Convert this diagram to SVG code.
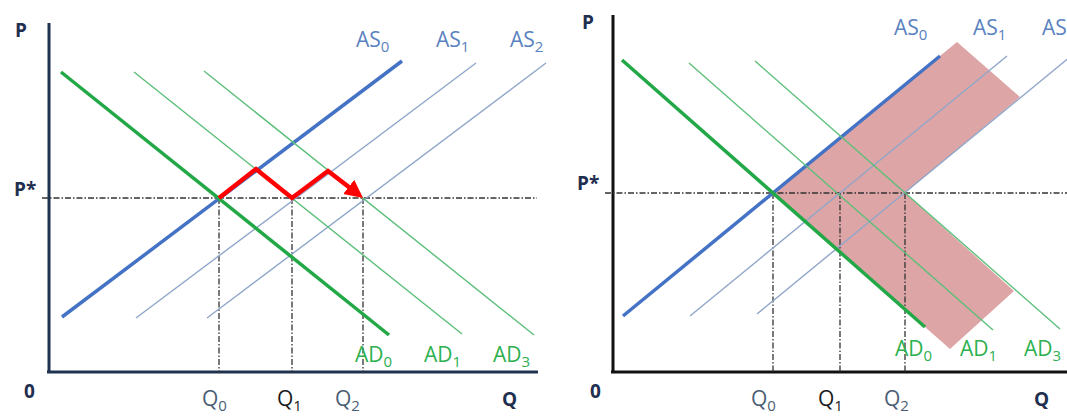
<svg xmlns="http://www.w3.org/2000/svg" width="1067" height="417" viewBox="0 0 1067 417">
<style>
text{font-family:"Open Sans","Noto Sans",sans-serif}
.ax{font-weight:bold;font-size:19px;fill:#1f2f4f}
.asl{font-size:21px;fill:#5a82c0}
.adl{font-size:21px;fill:#2db04f}
.ql{font-size:21px;fill:#4a5d73}
.q1{font-size:21px;fill:#1a1a1a}
.sub{font-size:15px}
.as0{stroke:#4472c4;stroke-width:3.5;fill:none}
.asn{stroke:#8fa6c9;stroke-width:1.4;fill:none}
.ad0{stroke:#22a846;stroke-width:3.5;fill:none}
.adn{stroke:#5cbf7a;stroke-width:1.4;fill:none}
.dash{stroke:#333;stroke-width:1.3;stroke-dasharray:6 2 1.5 2;fill:none}
</style>
<defs>
<marker id="ah" markerWidth="20" markerHeight="20" refX="5" refY="10" orient="auto" markerUnits="userSpaceOnUse">
<path d="M0,1 L18,10 L0,19 Z" fill="#ff0000"/>
</marker>
</defs>

<g id="left-panel">
<g id="left-axes">
<line x1="49" y1="23" x2="49" y2="373" stroke="#1f3350" stroke-width="3"/>
<line x1="47" y1="372" x2="538" y2="372" stroke="#1f3350" stroke-width="3"/>
<text class="ax" x="15" y="37">P</text>
<text class="ax" x="14" y="196">P*</text>
<text class="ax" x="24" y="398">0</text>
<text class="ax" x="502" y="406">Q</text>
</g>
<g id="left-guides">
<line class="dash" x1="42" y1="198" x2="537" y2="198"/>
<line class="dash" x1="219" y1="198" x2="219" y2="372"/>
<line class="dash" x1="292" y1="198" x2="292" y2="372"/>
<line class="dash" x1="363" y1="198" x2="363" y2="372"/>
</g>
<g id="left-curves">
<line class="asn" x1="136" y1="318" x2="476" y2="63"/>
<line class="asn" x1="207" y1="318" x2="546" y2="63"/>
<line class="as0" x1="62" y1="317" x2="402" y2="61"/>
<line class="adn" x1="134" y1="72" x2="462" y2="334"/>
<line class="adn" x1="204" y1="71" x2="534" y2="335"/>
<line class="ad0" x1="61" y1="72" x2="389" y2="335"/>
</g>
<g id="left-path">
<polyline points="219,198 256,169 292,198 328,171 352.7,190" fill="none" stroke="#ff0000" stroke-width="4.5" stroke-linejoin="miter" marker-end="url(#ah)"/>
</g>
<g id="left-labels">
<text class="asl" x="356" y="47">AS<tspan class="sub" dy="5">0</tspan></text>
<text class="asl" x="436" y="47">AS<tspan class="sub" dy="5">1</tspan></text>
<text class="asl" x="510" y="47">AS<tspan class="sub" dy="5">2</tspan></text>
<text class="adl" x="355" y="362">AD<tspan class="sub" dy="5">0</tspan></text>
<text class="adl" x="424" y="362">AD<tspan class="sub" dy="5">1</tspan></text>
<text class="adl" x="493" y="362">AD<tspan class="sub" dy="5">3</tspan></text>
<text class="ql" x="202" y="406">Q<tspan class="sub" dy="5">0</tspan></text>
<text class="q1" x="277" y="406">Q<tspan class="sub" dy="5">1</tspan></text>
<text class="ql" x="335" y="406">Q<tspan class="sub" dy="5">2</tspan></text>
</g>
</g>

<g id="right-panel">
<g id="band">
<polygon points="773,193 957,42 1020,97 905,193 1014,291 950,349" fill="#dda5a5"/>
</g>
<g id="right-axes">
<line x1="613" y1="15" x2="613" y2="373" stroke="#111" stroke-width="3"/>
<line x1="611" y1="372" x2="1067" y2="372" stroke="#111" stroke-width="3"/>
<text class="ax" x="582" y="29">P</text>
<text class="ax" x="577" y="190">P*</text>
<text class="ax" x="590" y="398">0</text>
<text class="ax" x="1034" y="406">Q</text>
</g>
<g id="right-guides">
<line class="dash" x1="605" y1="193" x2="1067" y2="193"/>
<line class="dash" x1="773" y1="193" x2="773" y2="372"/>
<line class="dash" x1="840" y1="193" x2="840" y2="372"/>
<line class="dash" x1="905" y1="193" x2="905" y2="372"/>
</g>
<g id="right-curves">
<line class="asn" x1="690" y1="316" x2="1007" y2="56"/>
<line class="asn" x1="757" y1="314" x2="1070" y2="57"/>
<line class="as0" x1="623" y1="316" x2="940" y2="56"/>
<line class="adn" x1="689" y1="63" x2="993" y2="330"/>
<line class="adn" x1="755" y1="61" x2="1060" y2="329"/>
<line class="ad0" x1="622" y1="60" x2="925" y2="327"/>
</g>
<g id="right-labels">
<text class="asl" x="894" y="35">AS<tspan class="sub" dy="5">0</tspan></text>
<text class="asl" x="973" y="35">AS<tspan class="sub" dy="5">1</tspan></text>
<text class="asl" x="1042" y="35">AS</text>
<text class="adl" x="895" y="356">AD<tspan class="sub" dy="5">0</tspan></text>
<text class="adl" x="960" y="356">AD<tspan class="sub" dy="5">1</tspan></text>
<text class="adl" x="1024" y="356">AD<tspan class="sub" dy="5">3</tspan></text>
<text class="ql" x="751" y="406">Q<tspan class="sub" dy="5">0</tspan></text>
<text class="q1" x="818" y="406">Q<tspan class="sub" dy="5">1</tspan></text>
<text class="ql" x="884" y="406">Q<tspan class="sub" dy="5">2</tspan></text>
</g>
</g>
</svg>
